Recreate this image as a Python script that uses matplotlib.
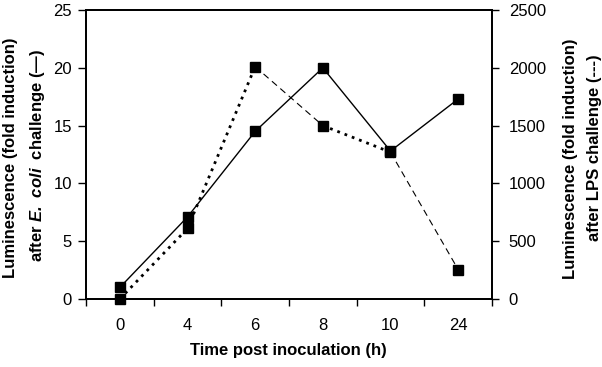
import matplotlib
matplotlib.use("Agg")
import matplotlib.pyplot as plt
import numpy as np

plt.rcParams['font.family'] = ['Liberation Sans', 'DejaVu Sans']
plt.rcParams['mathtext.fontset'] = 'custom'
plt.rcParams['mathtext.rm'] = 'Liberation Sans:bold'
plt.rcParams['mathtext.bfit'] = 'Liberation Sans:italic:bold'

# Datos
time_labels = ['0', '4', '6', '8', '10', '24']
ecoli_fold = [1.0, 7.1, 14.5, 20.0, 12.8, 17.3]      # eje izquierdo, linea continua
lps_fold = [0, 610, 2010, 1500, 1270, 255]           # eje derecho, linea discontinua
# estilo de cada tramo de la curva LPS
lps_segment_style = ['dot', 'dot', 'dash', 'dot', 'dash']

x = np.arange(len(time_labels))

fig = plt.figure(figsize=(6.02, 3.67), dpi=100)
ax = fig.add_axes([86 / 602, 1 - 299 / 367, 406 / 602, 289 / 367])
ax2 = ax.twinx()

# Curva E. coli
ax.plot(x, ecoli_fold, color='black', linewidth=1.0, marker='s', markersize=6.5,
        clip_on=False, zorder=3)

# Curva LPS tramo a tramo
for i, st in enumerate(lps_segment_style):
    xs = x[i:i + 2]
    ys = lps_fold[i:i + 2]
    if st == 'dot':
        ax2.plot(xs, ys, color='black', linewidth=2.0, linestyle=(0, (1.0, 1.8)),
                 dash_capstyle='butt', clip_on=False)
    else:
        ax2.plot(xs, ys, color='black', linewidth=0.8, linestyle=(0, (6, 4)),
                 clip_on=False)
ax2.plot(x, lps_fold, linestyle='none', color='black', marker='s', markersize=6.5,
         clip_on=False, zorder=3)

ax.set_xlim(-0.5, len(time_labels) - 0.5)
ax.set_ylim(0, 25)
ax2.set_ylim(0, 2500)
ax.set_yticks(np.arange(0, 26, 5))
ax2.set_yticks(np.arange(0, 2501, 500))

# ticks en los limites de categoria, etiquetas en el centro
ax.set_xticks(np.arange(-0.5, len(time_labels), 1.0))
ax.set_xticklabels([])
ax.set_xticks(x, minor=True)
ax.set_xticklabels(time_labels, minor=True)
ax.tick_params(axis='x', which='major', direction='out', length=5, width=1)
ax.tick_params(axis='x', which='minor', length=0, pad=14, labelsize=12)
ax.tick_params(axis='y', direction='out', length=6, width=1, pad=4, labelsize=12)
ax2.tick_params(axis='y', direction='out', length=5, width=1, pad=7, labelsize=12)

for a in (ax, ax2):
    for sp in a.spines.values():
        sp.set_linewidth(1.3)

fig.text(288 / 602, 1 - 350 / 367, 'Time post inoculation (h)', ha='center', va='center',
         fontsize=12, fontweight='bold')
fig.text(11 / 602, 1 - 158 / 367, 'Luminescence (fold induction)', rotation=90,
         ha='center', va='center', fontsize=12, fontweight='bold')
fig.text(38 / 602, 1 - 155 / 367, r'after $\mathbfit{E.\ coli}$  challenge (—)', rotation=90,
         ha='center', va='center', fontsize=12, fontweight='bold')
fig.text(570 / 602, 1 - 159 / 367, 'Luminescence (fold induction)', rotation=90,
         ha='center', va='center', fontsize=12, fontweight='bold')
fig.text(595 / 602, 1 - 148 / 367, 'after LPS challenge (---)', rotation=90,
         ha='center', va='center', fontsize=12, fontweight='bold')

fig.savefig('out.png', dpi=100)
